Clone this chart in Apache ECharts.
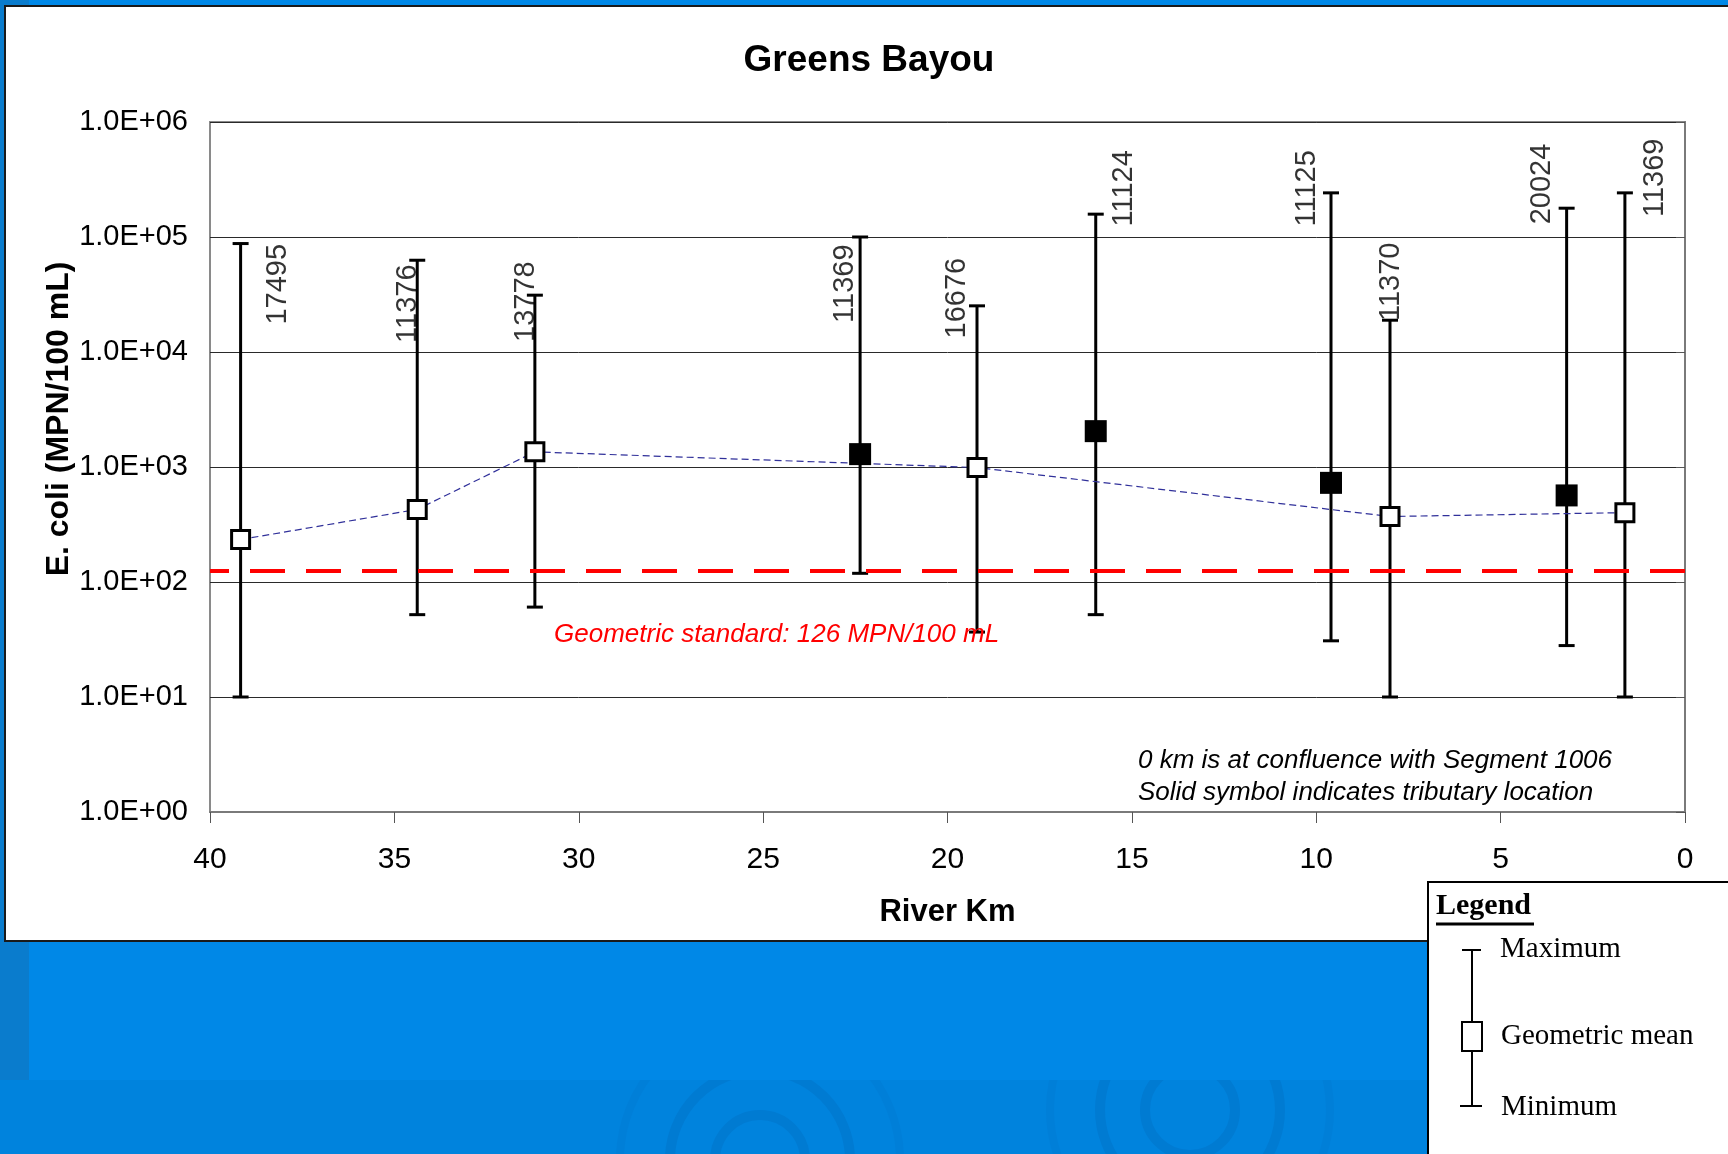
<!DOCTYPE html>
<html><head><meta charset="utf-8">
<script src="https://cdn.jsdelivr.net/npm/echarts@6/dist/echarts.min.js"></script>
<style>html,body{margin:0;padding:0;background:#0083dd}#c{width:1728px;height:1154px}</style>
</head><body><div id="c"></div>
<script>
// ---- data ----
const riverKm   = [39.17, 34.38, 31.19, 22.37, 19.20, 15.98, 9.60, 8.00, 3.21, 1.63];
const geoMean   = [234, 428, 1355, 1294, 989, 2050, 728, 371, 566, 401];
const maxVal    = [87700, 62800, 31200, 100000, 25200, 158000, 242000, 18900, 178000, 242000];
const minVal    = [10, 52, 60.5, 119, 36.7, 52, 30.8, 10, 28, 10];
const tributary = [false, false, false, true, false, true, true, false, true, false];
const stationId = ['17495', '11376', '13778', '11369', '16676', '11124', '11125', '11370', '20024', '11369'];
const labelKm   = [38.15, 34.64, 31.43, 22.79, 19.73, 15.22, 10.24, 7.96, 3.88, 0.82];
const labelVal  = [38800, 26300, 27400, 39300, 29400, 265000, 265000, 40800, 289000, 327000];
const standard  = 126;
const yTickLabels = ['1.0E+00', '1.0E+01', '1.0E+02', '1.0E+03', '1.0E+04', '1.0E+05', '1.0E+06'];
const xMin = 0, xMax = 40, xStep = 5;

// ---- build series data ----
const errData = riverKm.map((k, i) => [k, minVal[i], maxVal[i]]);
const openPts = [], solidPts = [];
riverKm.forEach((k, i) => (tributary[i] ? solidPts : openPts).push([k, geoMean[i]]));
const labelPts = stationId.map((s, i) => ({ value: [labelKm[i], labelVal[i]], name: s }));

const SANS = '"Liberation Sans", Arial, Helvetica, sans-serif';
const SERIF = '"Liberation Serif", "Times New Roman", serif';

const chart = echarts.init(document.getElementById('c'));
chart.setOption({
  backgroundColor: '#0083dd',
  animation: false,
  title: {
    text: 'Greens Bayou', left: 864, top: 37, textAlign: 'center',
    textStyle: { fontFamily: SANS, fontSize: 37, fontWeight: 'bold', color: '#000' }
  },
  grid: { left: 210, top: 122, width: 1475, height: 690, show: true, borderColor: '#8a8a8a', borderWidth: 2, backgroundColor: 'transparent' },
  xAxis: {
    type: 'value', min: xMin, max: xMax, interval: xStep, inverse: true,
    name: 'River Km', nameLocation: 'middle', nameGap: 85,
    nameTextStyle: { fontFamily: SANS, fontSize: 31, fontWeight: 'bold', color: '#000' },
    axisLine: { lineStyle: { color: '#7a7a7a', width: 2 } },
    axisTick: { length: 11, lineStyle: { color: '#555', width: 1 } },
    axisLabel: { fontFamily: SANS, fontSize: 30, color: '#000', margin: 33 },
    splitLine: { show: false }
  },
  yAxis: {
    type: 'log', logBase: 10, min: 1, max: 1e6,
    axisLine: { show: true, lineStyle: { color: '#7a7a7a', width: 2 } },
    axisTick: { show: true, length: 9, lineStyle: { color: '#555', width: 1 } },
    axisLabel: {
      fontFamily: SANS, fontSize: 29, color: '#000', margin: 22,
      formatter: v => yTickLabels[Math.round(Math.log10(v))]
    },
    minorTick: { show: false },
    splitLine: { show: true, lineStyle: { color: '#2a2a2a', width: 1 } }
  },
  graphic: [
    // background decoration
    { type: 'rect', z: -20, shape: { x: 29, y: 0, width: 1700, height: 1080 }, style: { fill: '#0088e7' } },
    { type: 'rect', z: -20, shape: { x: 0, y: 0, width: 29, height: 1080 }, style: { fill: '#0a7ccd' } },
    { type: 'circle', z: -25, shape: { cx: 760, cy: 1160, r: 45 }, style: { fill: 'none', stroke: '#007bd2', lineWidth: 10 } },
    { type: 'circle', z: -25, shape: { cx: 760, cy: 1160, r: 90 }, style: { fill: 'none', stroke: '#007bd2', lineWidth: 10 } },
    { type: 'circle', z: -25, shape: { cx: 760, cy: 1160, r: 140 }, style: { fill: 'none', stroke: '#007fd8', lineWidth: 8 } },
    { type: 'circle', z: -25, shape: { cx: 1190, cy: 1110, r: 45 }, style: { fill: 'none', stroke: '#007bd2', lineWidth: 10 } },
    { type: 'circle', z: -25, shape: { cx: 1190, cy: 1110, r: 90 }, style: { fill: 'none', stroke: '#007bd2', lineWidth: 10 } },
    { type: 'circle', z: -25, shape: { cx: 1190, cy: 1110, r: 140 }, style: { fill: 'none', stroke: '#007fd8', lineWidth: 8 } },
    { type: 'rect', z: -15, shape: { x: 5, y: 6, width: 1740, height: 935 }, style: { fill: '#fff', stroke: '#1a1a1a', lineWidth: 2 } },
    // y-axis title
    { type: 'text', z: 10, x: 59, y: 419, rotation: Math.PI / 2,
      style: { text: 'E. coli (MPN/100 mL)', fill: '#000', font: 'bold 32px ' + SANS, align: 'center', verticalAlign: 'middle' } },
    // annotations
    { type: 'text', z: 10, left: 554, top: 622, style: { text: 'Geometric standard: ' + standard + ' MPN/100 mL', fill: '#ff0000', font: 'italic 26px ' + SANS } },
    { type: 'text', z: 10, left: 1138, top: 745, style: { text: '0 km is at confluence with Segment 1006\nSolid symbol indicates tributary location', fill: '#000', font: 'italic 26px ' + SANS, lineHeight: 32 } },
    // legend box
    { type: 'rect', z: 100, shape: { x: 1428, y: 882, width: 320, height: 290 }, style: { fill: '#fff', stroke: '#000', lineWidth: 2 } },
    { type: 'text', z: 101, left: 1436, top: 891, style: { text: 'Legend', fill: '#000', font: 'bold 30px ' + SERIF } },
    { type: 'line', z: 101, shape: { x1: 1436, y1: 924, x2: 1534, y2: 924 }, style: { stroke: '#000', lineWidth: 3 } },
    { type: 'line', z: 101, shape: { x1: 1472, y1: 950, x2: 1472, y2: 1106 }, style: { stroke: '#000', lineWidth: 2 } },
    { type: 'line', z: 101, shape: { x1: 1462, y1: 950, x2: 1481, y2: 950 }, style: { stroke: '#000', lineWidth: 2 } },
    { type: 'line', z: 101, shape: { x1: 1460, y1: 1106, x2: 1482, y2: 1106 }, style: { stroke: '#000', lineWidth: 2 } },
    { type: 'rect', z: 102, shape: { x: 1462, y: 1022, width: 20, height: 29 }, style: { fill: '#fff', stroke: '#000', lineWidth: 2 } },
    { type: 'text', z: 101, left: 1500, top: 935, style: { text: 'Maximum', fill: '#000', font: '29px ' + SERIF } },
    { type: 'text', z: 101, left: 1501, top: 1022, style: { text: 'Geometric mean', fill: '#000', font: '29px ' + SERIF } },
    { type: 'text', z: 101, left: 1501, top: 1093, style: { text: 'Minimum', fill: '#000', font: '29px ' + SERIF } }
  ],
  series: [
    {
      type: 'custom', name: 'range', z: 3,
      data: errData,
      encode: { x: 0, y: [1, 2] },
      renderItem: function (params, api) {
        const k = api.value(0);
        const lo = api.coord([k, api.value(1)]);
        const hi = api.coord([k, api.value(2)]);
        const cap = 8;
        const st = { stroke: '#000', lineWidth: 3 };
        return {
          type: 'group', children: [
            { type: 'line', shape: { x1: hi[0], y1: hi[1], x2: lo[0], y2: lo[1] }, style: st },
            { type: 'line', shape: { x1: hi[0] - cap, y1: hi[1], x2: hi[0] + cap, y2: hi[1] }, style: st },
            { type: 'line', shape: { x1: lo[0] - cap, y1: lo[1], x2: lo[0] + cap, y2: lo[1] }, style: st }
          ]
        };
      }
    },
    {
      type: 'line', name: 'mainstem', z: 4, data: openPts, symbol: 'none',
      lineStyle: { color: '#30309a', width: 1.2, type: [7, 4] },
      markLine: {
        silent: true, symbol: 'none', label: { show: false },
        lineStyle: { color: '#ff0000', width: 4, type: [35, 21] },
        data: [{ yAxis: standard }]
      }
    },
    {
      type: 'scatter', name: 'mean', z: 6, data: openPts, symbol: 'rect', symbolSize: 18,
      itemStyle: { color: '#fff', borderColor: '#000', borderWidth: 3, opacity: 1 }
    },
    {
      type: 'scatter', name: 'tributary', z: 6, data: solidPts, symbol: 'rect', symbolSize: 22,
      itemStyle: { color: '#000', opacity: 1 }
    },
    {
      type: 'scatter', name: 'station', z: 7, data: labelPts, symbolSize: 1,
      itemStyle: { color: 'rgba(0,0,0,0)' },
      label: {
        show: true, position: 'inside', rotate: 90, formatter: p => p.name,
        fontFamily: SANS, fontSize: 29, color: '#000'
      }
    }
  ]
});
</script>
</body></html>
